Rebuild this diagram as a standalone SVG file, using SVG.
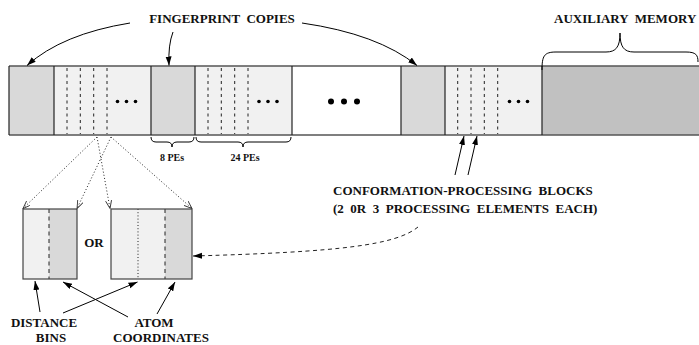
<svg xmlns="http://www.w3.org/2000/svg" width="699" height="345" viewBox="0 0 699 345">
<style>
text{font-family:"Liberation Serif","Times New Roman",serif;font-weight:bold;fill:#111;white-space:pre}
.lbl{font-size:13px}
.sm{font-size:10px}
.fp{fill:#d9d9d9}
.lt{fill:#f1f1f1}
.aux{fill:#c1c1c1}
.div{stroke:#222;stroke-width:1.2}
.dash{stroke:#222;stroke-width:1;stroke-dasharray:3 3.5}
.dot{fill:#000}
.ln{fill:none;stroke:#000;stroke-width:1}
.dotted{fill:none;stroke:#222;stroke-width:1;stroke-dasharray:1 2.2}
.dashed{fill:none;stroke:#222;stroke-width:1;stroke-dasharray:4 3.5}
.brace{fill:none;stroke:#000;stroke-width:1}
</style>
<defs>
<marker id="ah" markerUnits="userSpaceOnUse" markerWidth="10" markerHeight="8" refX="9" refY="3" orient="auto">
<path d="M0,0 L9,3 L0,6 Z" fill="#000"/>
</marker>
<marker id="av" markerUnits="userSpaceOnUse" markerWidth="10" markerHeight="8" refX="8" refY="3" orient="auto">
<path d="M0,0 L8,3 L0,6" fill="none" stroke="#333" stroke-width="0.9"/>
</marker>
</defs>

<g id="bar">
<rect class="fp" x="9" y="66" width="45" height="69"/>
<rect class="lt" x="54" y="66" width="97" height="69"/>
<rect class="fp" x="151" y="66" width="44" height="69"/>
<rect class="lt" x="195" y="66" width="97" height="69"/>
<rect fill="#fff" x="292" y="66" width="109" height="69"/>
<rect class="fp" x="401" y="66" width="44" height="69"/>
<rect class="lt" x="445" y="66" width="97" height="69"/>
<rect class="aux" x="542" y="66" width="160" height="69"/>
<line x1="9" y1="66" x2="699" y2="66" stroke="#555" stroke-width="1.3"/>
<line x1="9" y1="135" x2="699" y2="135" stroke="#555" stroke-width="1.3"/>
<line class="div" x1="9" y1="66" x2="9" y2="135"/>
<line class="div" x1="54" y1="66" x2="54" y2="135"/>
<line class="div" x1="151" y1="66" x2="151" y2="135"/>
<line class="div" x1="195" y1="66" x2="195" y2="135"/>
<line class="div" x1="292" y1="66" x2="292" y2="135"/>
<line class="div" x1="401" y1="66" x2="401" y2="135"/>
<line class="div" x1="445" y1="66" x2="445" y2="135"/>
<line class="div" x1="542" y1="66" x2="542" y2="135"/>
<g id="pe-group-1">
<line class="dash" x1="67" y1="68" x2="67" y2="134"/>
<line class="dash" x1="80.3" y1="68" x2="80.3" y2="134"/>
<line class="dash" x1="93.7" y1="68" x2="93.7" y2="134"/>
<line class="dash" x1="107" y1="68" x2="107" y2="134"/>
<circle class="dot" cx="117.5" cy="101.5" r="1.8"/><circle class="dot" cx="126.5" cy="101.5" r="1.8"/><circle class="dot" cx="135.5" cy="101.5" r="1.8"/>
</g>
<g id="pe-group-2">
<line class="dash" x1="208" y1="68" x2="208" y2="134"/>
<line class="dash" x1="221.3" y1="68" x2="221.3" y2="134"/>
<line class="dash" x1="234.7" y1="68" x2="234.7" y2="134"/>
<line class="dash" x1="248" y1="68" x2="248" y2="134"/>
<circle class="dot" cx="259" cy="101.5" r="1.8"/><circle class="dot" cx="268" cy="101.5" r="1.8"/><circle class="dot" cx="277" cy="101.5" r="1.8"/>
</g>
<g id="ellipsis">
<circle class="dot" cx="331" cy="101.5" r="3"/><circle class="dot" cx="344" cy="101.5" r="3"/><circle class="dot" cx="357" cy="101.5" r="3"/>
</g>
<g id="pe-group-3">
<line class="dash" x1="457.7" y1="68" x2="457.7" y2="134"/>
<line class="dash" x1="471" y1="68" x2="471" y2="134"/>
<line class="dash" x1="484.3" y1="68" x2="484.3" y2="134"/>
<line class="dash" x1="497.7" y1="68" x2="497.7" y2="134"/>
<circle class="dot" cx="509.5" cy="101.5" r="1.8"/><circle class="dot" cx="518.5" cy="101.5" r="1.8"/><circle class="dot" cx="527.5" cy="101.5" r="1.8"/>
</g>
</g>

<g id="label-fingerprint"><text class="lbl" x="222" y="23" text-anchor="middle">FINGERPRINT  COPIES</text></g>
<g id="label-aux">
<text class="lbl" x="554" y="23">AUXILIARY  MEMORY</text>
<path class="brace" d="M542,70 C542,56 544,52 556,52 H606 C616,52 620,47 620,33 C620,47 624,52 634,52 H686 C696,52 698,55 698,62"/>
</g>
<g id="label-8pes">
<path class="brace" d="M151,137 Q151,142 156,142 H167 Q172,142 172,147 Q172,142 177,142 H189 Q194,142 194,137"/>
<text class="sm" x="172" y="161" text-anchor="middle">8 PEs</text>
</g>
<g id="label-24pes">
<path class="brace" d="M196,137 Q196,142 201,142 H238 Q243,142 243,147 Q243,142 248,142 H286 Q291,142 291,137"/>
<text class="sm" x="245" y="161" text-anchor="middle">24 PEs</text>
</g>
<g id="label-conformation">
<text class="lbl" x="333" y="195">CONFORMATION-PROCESSING  BLOCKS</text>
<text class="lbl" x="333" y="213">(2  0R  3  PROCESSING  ELEMENTS  EACH)</text>
</g>

<g id="box-left">
<rect class="lt" x="23" y="209" width="26" height="70"/>
<rect class="fp" x="49" y="209" width="28" height="70"/>
<line class="dashed" x1="49" y1="209" x2="49" y2="279"/>
<rect x="23" y="209" width="54" height="70" fill="none" stroke="#444" stroke-width="1.2"/>
</g>
<g id="label-or"><text class="lbl" x="94" y="247" text-anchor="middle">OR</text></g>
<g id="box-right">
<rect class="lt" x="111" y="209" width="54" height="70"/>
<rect class="fp" x="165" y="209" width="27" height="70"/>
<line class="dotted" x1="138" y1="209" x2="138" y2="279"/>
<line class="dashed" x1="165" y1="209" x2="165" y2="279"/>
<rect x="111" y="209" width="81" height="70" fill="none" stroke="#444" stroke-width="1.2"/>
</g>
<g id="label-distance">
<text class="lbl" x="44" y="326.5" text-anchor="middle">DISTANCE</text>
<text class="lbl" x="51" y="341.5" text-anchor="middle">BINS</text>
</g>
<g id="label-atom">
<text class="lbl" x="154" y="326.5" text-anchor="middle">ATOM</text>
<text class="lbl" x="161" y="341.5" text-anchor="middle">COORDINATES</text>
</g>

<g id="connectors">
<path class="ln" d="M130,23 Q62,34 27,65.5" marker-end="url(#ah)"/>
<path class="ln" d="M173,32 Q168,45 169,65.5" marker-end="url(#ah)"/>
<path class="ln" d="M302,23 Q378,34 417,65.5" marker-end="url(#ah)"/>
<line class="ln" x1="455" y1="175" x2="464" y2="136" marker-end="url(#ah)"/>
<line class="ln" x1="468" y1="175" x2="477" y2="136" marker-end="url(#ah)"/>
<line class="dotted" x1="97" y1="137" x2="23" y2="208.5" marker-end="url(#av)"/>
<line class="dotted" x1="97" y1="137" x2="110" y2="208.5" marker-end="url(#av)"/>
<line class="dotted" x1="111" y1="137" x2="77" y2="208.5" marker-end="url(#av)"/>
<line class="dotted" x1="111" y1="137" x2="192" y2="208.5" marker-end="url(#av)"/>
<path class="dashed" d="M418,227 C396,245 340,252 193,256" marker-end="url(#ah)"/>
<line class="ln" x1="40" y1="312" x2="35" y2="281" marker-end="url(#ah)"/>
<line class="ln" x1="63" y1="313" x2="137.5" y2="282" marker-end="url(#ah)"/>
<line class="ln" x1="128" y1="317" x2="63" y2="282" marker-end="url(#ah)"/>
<line class="ln" x1="157" y1="314" x2="175" y2="282" marker-end="url(#ah)"/>
</g>
</svg>
